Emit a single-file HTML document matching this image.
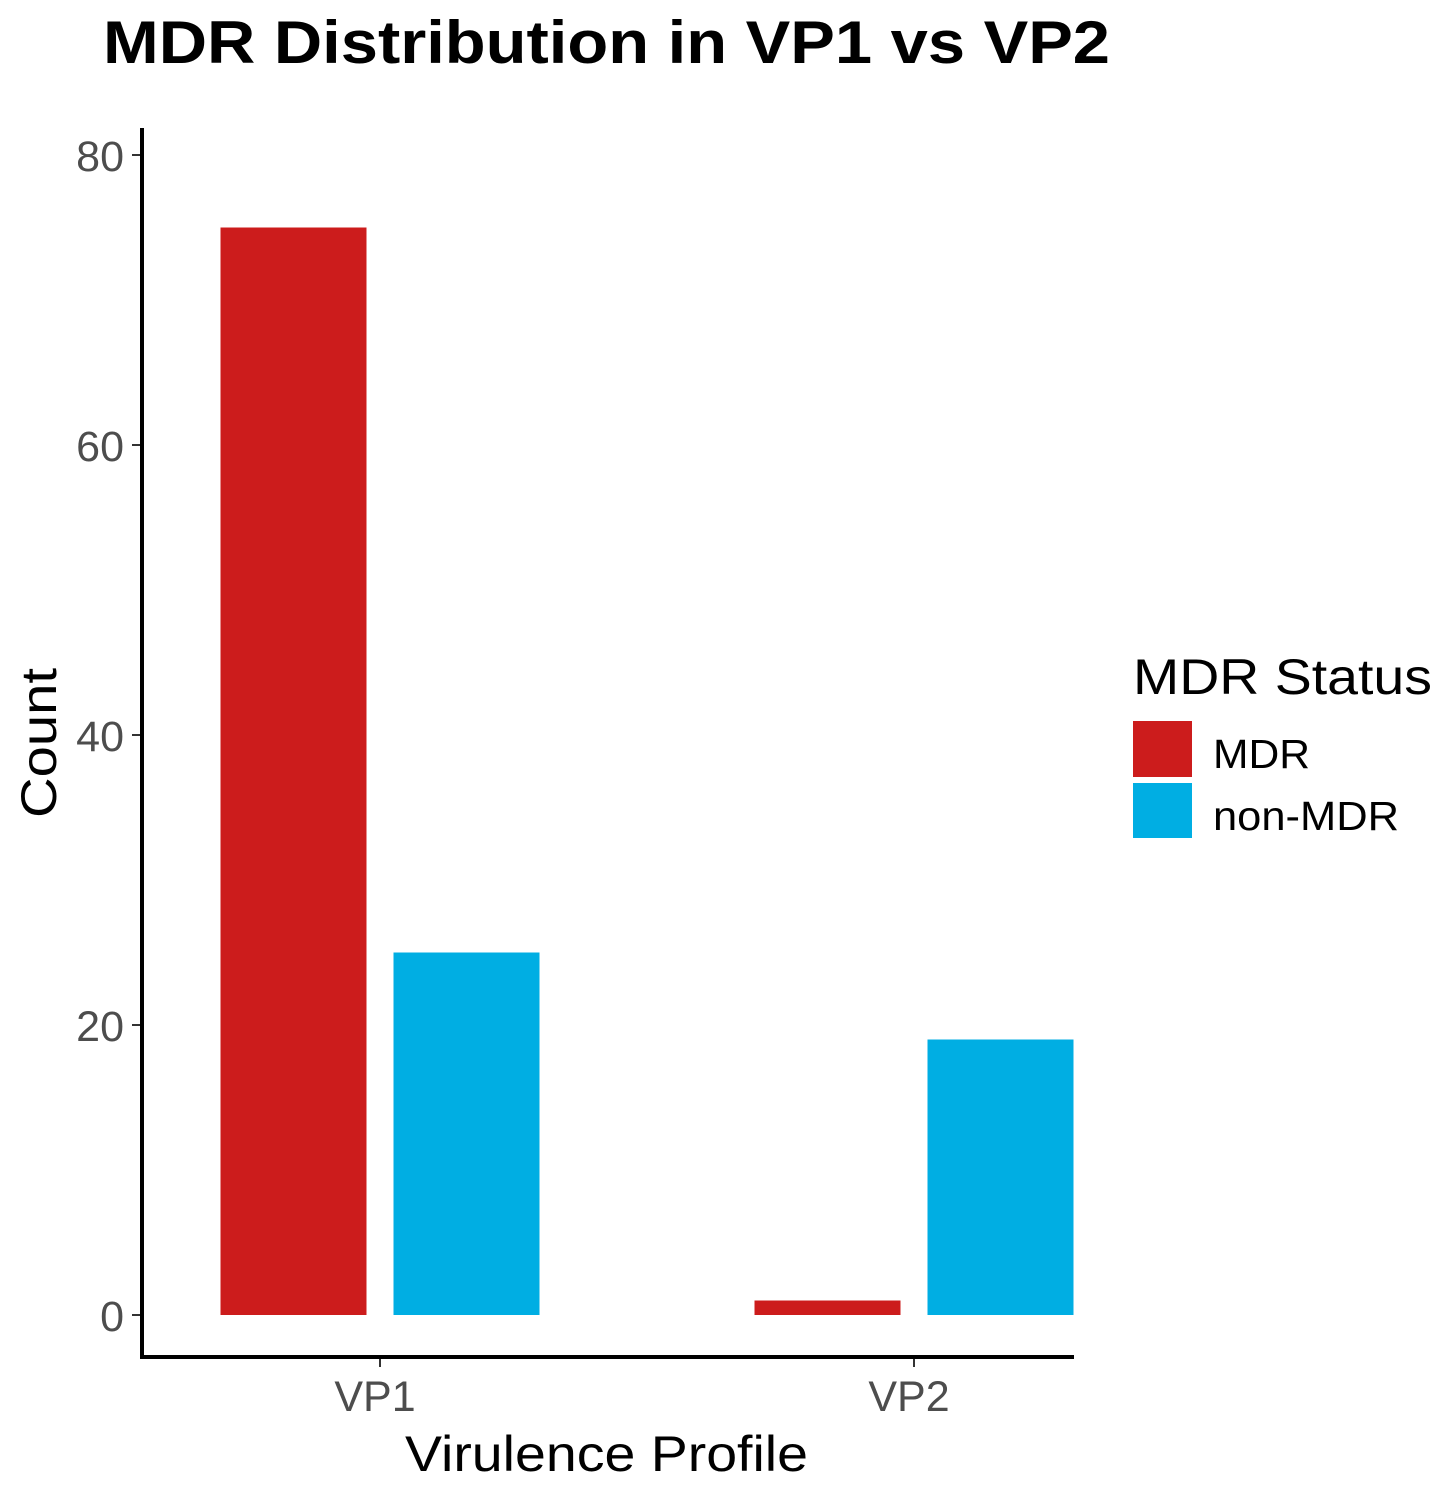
<!DOCTYPE html>
<html><head><meta charset="utf-8"><style>
html,body{margin:0;padding:0;background:#fff;}
svg{display:block;font-family:"Liberation Sans",Arial,sans-serif;}
</style></head><body>
<svg id="chart" width="1441" height="1492" viewBox="0 0 1441 1492">
<text x="103" y="63" font-size="60" font-weight="bold" fill="#000" textLength="1007" lengthAdjust="spacingAndGlyphs">MDR Distribution in VP1 vs VP2</text>
<g id="bars"></g>
<g id="yticks"></g>
<g id="xticks"></g>
<line x1="142" y1="128" x2="142" y2="1359" stroke="#000" stroke-width="4"/>
<line x1="140" y1="1357" x2="1074" y2="1357" stroke="#000" stroke-width="4"/>
<text x="405" y="1471" font-size="50" fill="#000" textLength="403" lengthAdjust="spacingAndGlyphs">Virulence Profile</text>
<text transform="translate(56,818) rotate(-90)" font-size="50" fill="#000" textLength="150" lengthAdjust="spacingAndGlyphs">Count</text>
<text x="1133" y="694" font-size="50" fill="#000" textLength="299" lengthAdjust="spacingAndGlyphs">MDR Status</text>
<rect x="1133" y="721" width="59" height="56" fill="#CC1C1C"/>
<text x="1213" y="768" font-size="41" fill="#000" textLength="97" lengthAdjust="spacingAndGlyphs">MDR</text>
<rect x="1133" y="783" width="59" height="55" fill="#00AEE3"/>
<text x="1213" y="830" font-size="41" fill="#000" textLength="186" lengthAdjust="spacingAndGlyphs">non-MDR</text>
</svg>
<script>
const categories = ["VP1", "VP2"];
const mdrValues = [75, 1];
const nonMdrValues = [25, 19];
const yTicks = [0, 20, 40, 60, 80];
const ns = "http://www.w3.org/2000/svg";
function yScale(v){ return 1315 - v * 14.5; }
function xScale(i){ return 380 + i * 534; }
const barW = 146, gap = 27;
const bars = document.getElementById('bars');
categories.forEach((c, i) => {
  const cx = xScale(i);
  [[mdrValues[i], '#CC1C1C', 'mdr', cx - gap/2 - barW], [nonMdrValues[i], '#00AEE3', 'non-mdr', cx + gap/2]].forEach(s => {
    const r = document.createElementNS(ns, 'rect');
    r.setAttribute('x', s[3]);
    r.setAttribute('y', yScale(s[0]));
    r.setAttribute('width', barW);
    r.setAttribute('height', yScale(0) - yScale(s[0]));
    r.setAttribute('fill', s[1]);
    
    
    bars.appendChild(r);
  });
});
const yt = document.getElementById('yticks');
yTicks.forEach(v => {
  const y = yScale(v);
  const l = document.createElementNS(ns, 'line');
  l.setAttribute('x1', 132); l.setAttribute('x2', 141);
  l.setAttribute('y1', y); l.setAttribute('y2', y);
  l.setAttribute('stroke', '#333'); l.setAttribute('stroke-width', 2);
  
  
  yt.appendChild(l);
  const t = document.createElementNS(ns, 'text');
  t.setAttribute('x', 124); t.setAttribute('y', y + 16);
  t.setAttribute('text-anchor', 'end'); t.setAttribute('font-size', 43);
  t.setAttribute('fill', '#4d4d4d');
  t.textContent = v;
  
  
  yt.appendChild(t);
});
const xt = document.getElementById('xticks');
categories.forEach((c, i) => {
  const x = xScale(i);
  const l = document.createElementNS(ns, 'line');
  l.setAttribute('x1', x); l.setAttribute('x2', x);
  l.setAttribute('y1', 1358); l.setAttribute('y2', 1367);
  l.setAttribute('stroke', '#333'); l.setAttribute('stroke-width', 2);
  
  
  xt.appendChild(l);
  const t = document.createElementNS(ns, 'text');
  t.setAttribute('x', x - 5); t.setAttribute('y', 1411);
  t.setAttribute('text-anchor', 'middle'); t.setAttribute('font-size', 43);
  t.setAttribute('fill', '#4d4d4d');
  t.textContent = c;
  
  
  xt.appendChild(t);
});
</script>
</body></html>
